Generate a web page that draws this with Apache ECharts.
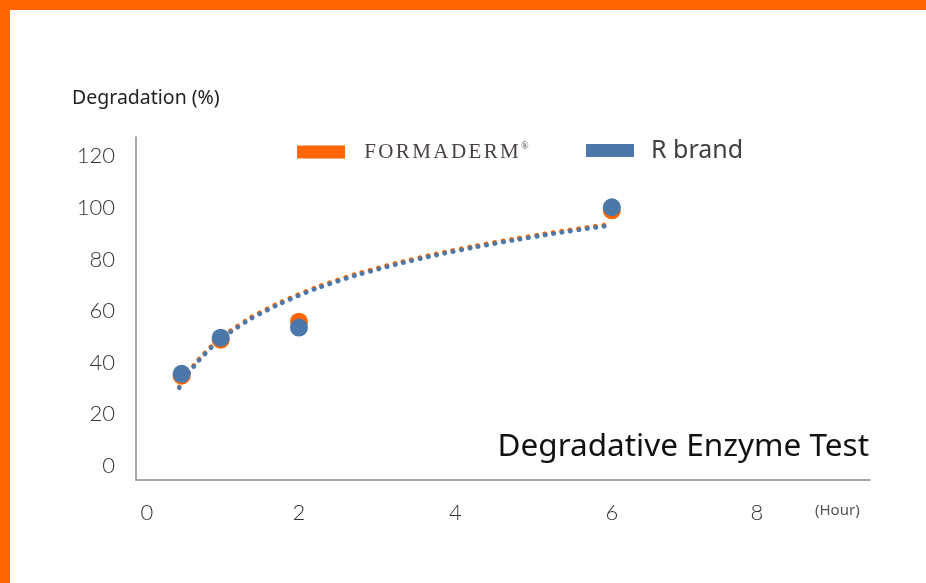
<!DOCTYPE html>
<html>
<head>
<meta charset="utf-8">
<script src="https://cdn.jsdelivr.net/npm/echarts@6/dist/echarts.min.js"></script>
<style>
html,body{margin:0;padding:0;background:#fff;}
#c{width:926px;height:583px;}
</style>
</head>
<body>
<div id="c"></div>
<script>
// ---- data ----
const hours = [0.5, 1, 2, 6];
const formaderm = [35.0, 48.9, 55.9, 99.0];
const rBrand = [35.7, 49.7, 53.6, 100.2];

const trendHours = [0.47, 0.6, 0.8, 1, 1.25, 1.5, 2, 2.5, 3, 3.5, 4, 4.5, 5, 5.5, 6];
const trendFormaderm = [30.6, 36.8, 43.9, 49.4, 54.9, 59.4, 66.5, 72.1, 76.6, 80.4, 83.7, 86.6, 89.2, 91.6, 93.7];
const trendRBrand = [30.3, 36.3, 43.4, 48.9, 54.4, 58.9, 66.0, 71.6, 76.1, 79.9, 83.2, 86.1, 88.7, 91.1, 93.2];

const xTicks = [0, 2, 4, 6, 8];
const yTicks = [0, 20, 40, 60, 80, 100, 120];

const seriesNames = ['FORMADERM®', 'R brand'];
const chartTitle = 'Degradative Enzyme Test';
const yAxisTitle = 'Degradation (%)';
const xAxisUnit = '(Hour)';

const ORANGE = '#FF6600';
const BLUE = '#4C77A9';

const pair = (xs, ys) => xs.map((x, i) => [x, ys[i]]);

const chart = echarts.init(document.getElementById('c'));

const brandLetters = 'FORMADERM'.split('');

const labelFont = { fontSize: 22, fontFamily: 'Lato', fontWeight: 300, color: '#333' };

const option = {
  backgroundColor: '#fff',
  animation: false,
  grid: { left: 136, right: 56, top: 137, bottom: 103, containLabel: false },
  xAxis: {
    type: 'value',
    min: -0.083,
    max: 9.3,
    axisLine: { show: true, onZero: false, lineStyle: { color: '#8a8a8a', width: 1.5 } },
    axisTick: { show: false },
    splitLine: { show: false },
    axisLabel: Object.assign({
      customValues: xTicks,
      margin: 22,
      formatter: function (v) {
        if (v === 0) return '{a|0}';
        if (v === 8) return '{b|8}';
        return String(v);
      },
      rich: {
        a: Object.assign({ padding: [0, 0, 0, 9] }, labelFont),
        b: Object.assign({ padding: [0, 23, 0, 0] }, labelFont)
      }
    }, labelFont)
  },
  yAxis: {
    type: 'value',
    min: -5.4,
    max: 127.4,
    axisLine: { show: true, onZero: false, lineStyle: { color: '#8a8a8a', width: 1.5 } },
    axisTick: { show: false },
    splitLine: { show: false },
    axisLabel: Object.assign({ customValues: yTicks, margin: 21 }, labelFont)
  },
  legend: [
    {
      data: [seriesNames[0]],
      left: 297,
      top: 141,
      padding: 0,
      icon: 'rect',
      itemWidth: 48,
      itemHeight: 13,
      formatter: function () {
        return '{s|}' + brandLetters.map(c => '{l|' + c + '}').join('') + '{r|®}';
      },
      textStyle: {
        rich: {
          s: { width: 13 },
          l: { fontFamily: 'Liberation Serif', fontSize: 21, color: '#4a4242', padding: [0, 1.2, 0, 1.2] },
          r: { fontFamily: 'Liberation Serif', fontSize: 10, color: '#4a4242', verticalAlign: 'top', padding: [0, 0, 12, 1] }
        }
      }
    },
    {
      data: [seriesNames[1]],
      left: 586,
      top: 138,
      padding: 0,
      icon: 'rect',
      itemWidth: 48,
      itemHeight: 13,
      formatter: function (name) { return '{s|}{t|' + name + '}'; },
      textStyle: {
        rich: {
          s: { width: 12 },
          t: { fontFamily: 'Noto Sans', fontSize: 25, color: '#404040' }
        }
      }
    }
  ],
  graphic: [
    { type: 'rect', left: 0, top: 0, shape: { width: 926, height: 10 }, style: { fill: ORANGE }, silent: true },
    { type: 'rect', left: 0, top: 0, shape: { width: 10, height: 583 }, style: { fill: ORANGE }, silent: true },
    { type: 'text', left: 72, top: 88, style: { text: yAxisTitle, fontFamily: 'Noto Sans', fontSize: 19.5, fill: '#222' } },
    { type: 'text', right: 57, top: 431, style: { text: chartTitle, fontFamily: 'Noto Sans', fontSize: 31.5, fill: '#111' } },
    { type: 'text', left: 815, top: 503, style: { text: xAxisUnit, fontFamily: 'Noto Sans', fontSize: 15, fill: '#555' } }
  ],
  series: [
    {
      name: 'FORMADERM trend',
      type: 'line',
      data: pair(trendHours, trendFormaderm),
      smooth: true,
      showSymbol: false,
      symbol: 'none',
      lineStyle: { color: ORANGE, width: 4.5, type: [0.5, 8], cap: 'round' },
      z: 2
    },
    {
      name: 'R brand trend',
      type: 'line',
      data: pair(trendHours, trendRBrand),
      smooth: true,
      showSymbol: false,
      symbol: 'none',
      lineStyle: { color: BLUE, width: 4.5, type: [0.5, 8], cap: 'round' },
      z: 3
    },
    {
      name: seriesNames[0],
      type: 'scatter',
      data: pair(hours, formaderm),
      symbolSize: 18,
      itemStyle: { color: ORANGE, opacity: 1 },
      z: 4
    },
    {
      name: seriesNames[1],
      type: 'scatter',
      data: pair(hours, rBrand),
      symbolSize: 18,
      itemStyle: { color: BLUE, opacity: 1 },
      z: 5
    }
  ]
};

chart.setOption(option);
</script>
</body>
</html>
